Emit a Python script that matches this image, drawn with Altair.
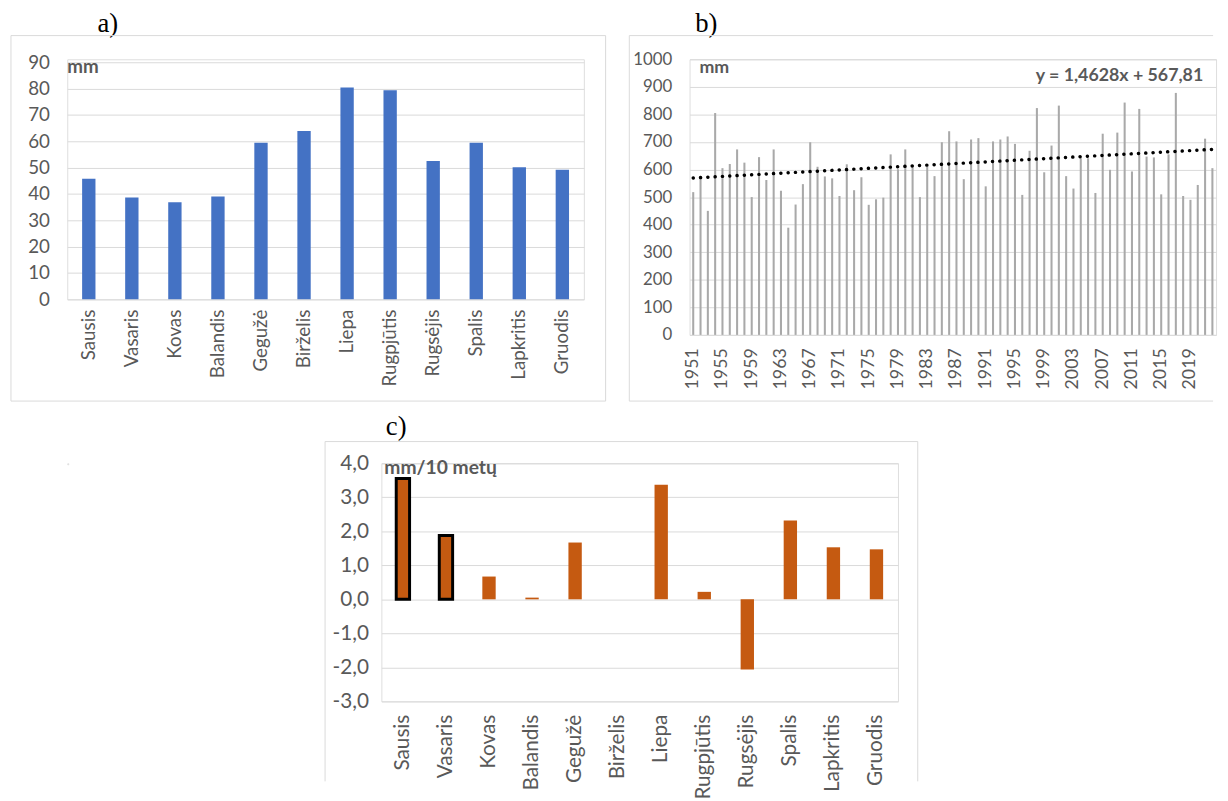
import altair as alt
import pandas as pd

# ---------------- data ----------------
menesiai = ["Sausis", "Vasaris", "Kovas", "Balandis", "Gegužė", "Birželis",
            "Liepa", "Rugpjūtis", "Rugsėjis", "Spalis", "Lapkritis", "Gruodis"]
krituliai_men = [45.8, 38.7, 36.9, 39.0, 59.4, 63.9, 80.4, 79.4, 52.5, 59.4, 50.1, 49.2]

metai = list(range(1951, 2023))
krituliai_met = [518, 572, 450, 805, 605, 620, 673, 625, 500, 645, 562, 673, 523, 389, 473, 547, 699, 610,
                 575, 568, 504, 619, 525, 572, 472, 492, 498, 655, 601, 673, 607, 500, 611, 576, 699, 739,
                 702, 565, 709, 714, 539, 702, 709, 720, 693, 508, 668, 823, 590, 687, 832, 576, 531, 641,
                 641, 515, 730, 599, 734, 843, 593, 820, 647, 644, 510, 655, 878, 504, 490, 544, 712, 605]
trend_k = 1.4628
trend_b = 567.81
metu_zymes = list(range(1951, 2020, 4))

tendencija = [3.55, 1.88, 0.67, 0.05, 1.67, 0.0, 3.37, 0.22, -2.06, 2.32, 1.53, 1.47]
paryskinti = ["Sausis", "Vasaris"]

# ---------------- style ----------------
FONT = "Lato"
LBL = "#595959"
GRID = "#D9D9D9"
TITLE_FONT = "Liberation Serif"

one = pd.DataFrame({"k": [0]})


def rule(x1, x2, y1, y2):
    return alt.Chart(one).mark_rule(color=GRID, strokeWidth=1).encode(
        x=alt.value(x1), x2=alt.value(x2), y=alt.value(y1), y2=alt.value(y2))


def label(txt, x, y, size, weight="bold", font=FONT, color=LBL, align="left"):
    return alt.Chart(pd.DataFrame({"t": [txt]})).mark_text(
        align=align, baseline="middle", fontSize=size, fontWeight=weight,
        font=font, color=color).encode(x=alt.value(x), y=alt.value(y), text="t:N")


def x_axis(pad, size, values=None):
    kw = dict(title=None, labelAngle=-90, labelPadding=pad, ticks=False, domain=False,
              labelFont=FONT, labelFontSize=size, labelColor=LBL, grid=False)
    if values is not None:
        kw["values"] = values
    return alt.Axis(**kw)


def y_axis(values, pad, size, expr=None):
    kw = dict(title=None, values=values, ticks=False, domain=False, labelPadding=pad,
              labelFont=FONT, labelFontSize=size, labelColor=LBL, grid=True,
              gridColor=GRID, gridWidth=1, format="d")
    if expr is not None:
        kw["labelExpr"] = expr
    return alt.Axis(**kw)


# ---------------- panel a ----------------
W_A, H_A = 523, 243
df_a = pd.DataFrame({"menuo": menesiai, "krituliai": krituliai_men})
bars_a = alt.Chart(df_a).mark_bar(color="#4472C4").encode(
    x=alt.X("menuo:N", sort=menesiai,
            scale=alt.Scale(paddingInner=0.69, paddingOuter=0.345), axis=x_axis(10, 19)),
    y=alt.Y("krituliai:Q", scale=alt.Scale(domain=[0, 91.125], nice=False),
            axis=y_axis(list(range(0, 91, 10)), 18, 19)),
)
panel_a = alt.layer(
    bars_a,
    label("mm", 0, 8, 19),
    label("a)", 41, -36, 27, weight="normal", font=TITLE_FONT, color="black", align="center"),
    rule(-57, 545, -24, -24), rule(-57, 545, 346, 346),
    rule(-57, -57, -24, 346), rule(545, 545, -24, 346),
).properties(width=W_A, height=H_A)

# ---------------- panel b ----------------
W_B, H_B = 533, 279
df_b = pd.DataFrame({"metai": metai, "krituliai": krituliai_met})
y_b_axis = y_axis(list(range(0, 1001, 100)), 18, 17)
xb = alt.X("metai:O", scale=alt.Scale(paddingInner=0.72, paddingOuter=0.36),
           axis=x_axis(13, 18, metu_zymes))
bars_b = alt.Chart(df_b).mark_bar(color="#A9A9A9").encode(
    x=xb,
    y=alt.Y("krituliai:Q", scale=alt.Scale(domain=[0, 1000]), axis=y_b_axis),
)
trend_b_line = alt.Chart(df_b).transform_calculate(
    trend=f"{trend_k} * (datum.metai - 1950) + {trend_b}"
).mark_line(color="black", strokeWidth=3.5, strokeDash=[0.1, 7.3], strokeCap="round").encode(
    x=xb, y=alt.Y("trend:Q", scale=alt.Scale(domain=[0, 1000]), axis=y_b_axis))
panel_b = alt.layer(
    bars_b, trend_b_line,
    label("mm", 10, 9, 18),
    label("y = 1,4628x + 567,81", 520, 17, 18, align="right"),
    label("b)", 17, -36, 27, weight="normal", font=TITLE_FONT, color="black", align="center"),
    rule(-61, 530, -24, -24), rule(-61, 530, 346, 346), rule(-61, -61, -24, 346),
).properties(width=W_B, height=H_B)

# ---------------- panel c ----------------
W_C, H_C = 523, 241
df_c = pd.DataFrame({"menuo": menesiai, "tendencija": tendencija})
df_c["pary"] = df_c["menuo"].isin(paryskinti)
xc = alt.X("menuo:N", sort=menesiai,
           scale=alt.Scale(paddingInner=0.69, paddingOuter=0.345), axis=x_axis(13, 21))
yc = alt.Y("tendencija:Q", scale=alt.Scale(domain=[-3, 4]),
           axis=y_axis(list(range(-3, 5)), 13, 21,
                       "(datum.value < 0 ? '-' : '') + replace(format(abs(datum.value), '.1f'), '.', ',')"))
bars_c = alt.Chart(df_c).mark_bar(color="#C55A11").encode(x=xc, y=yc)
bars_c_hl = alt.Chart(df_c).transform_filter("datum.pary").mark_bar(
    color="#C55A11", stroke="black", strokeWidth=3).encode(x=xc, y=yc)
panel_c = alt.layer(
    bars_c, bars_c_hl,
    label("mm/10 metų", 3, 5, 19.5),
    label("c)", 15, -37, 27, weight="normal", font=TITLE_FONT, color="black", align="center"),
    rule(-57, 543, -22, -22), rule(-57, -57, -22, 322), rule(543, 543, -22, 322),
).properties(width=W_C, height=H_C)

spacer = alt.Chart(one).mark_point(opacity=0).encode(
    x=alt.value(0), y=alt.value(0)).properties(width=1, height=1)

chart = alt.vconcat(
    alt.hconcat(panel_a, panel_b, spacing=22),
    alt.hconcat(spacer, panel_c, spacing=256),
    spacing=10,
).properties(
    padding={"left": 2, "top": -4, "right": 0, "bottom": 0}
).configure_view(stroke=None).configure(background="white")

chart.save("out.html", embed_options={"renderer": "svg", "actions": False})
